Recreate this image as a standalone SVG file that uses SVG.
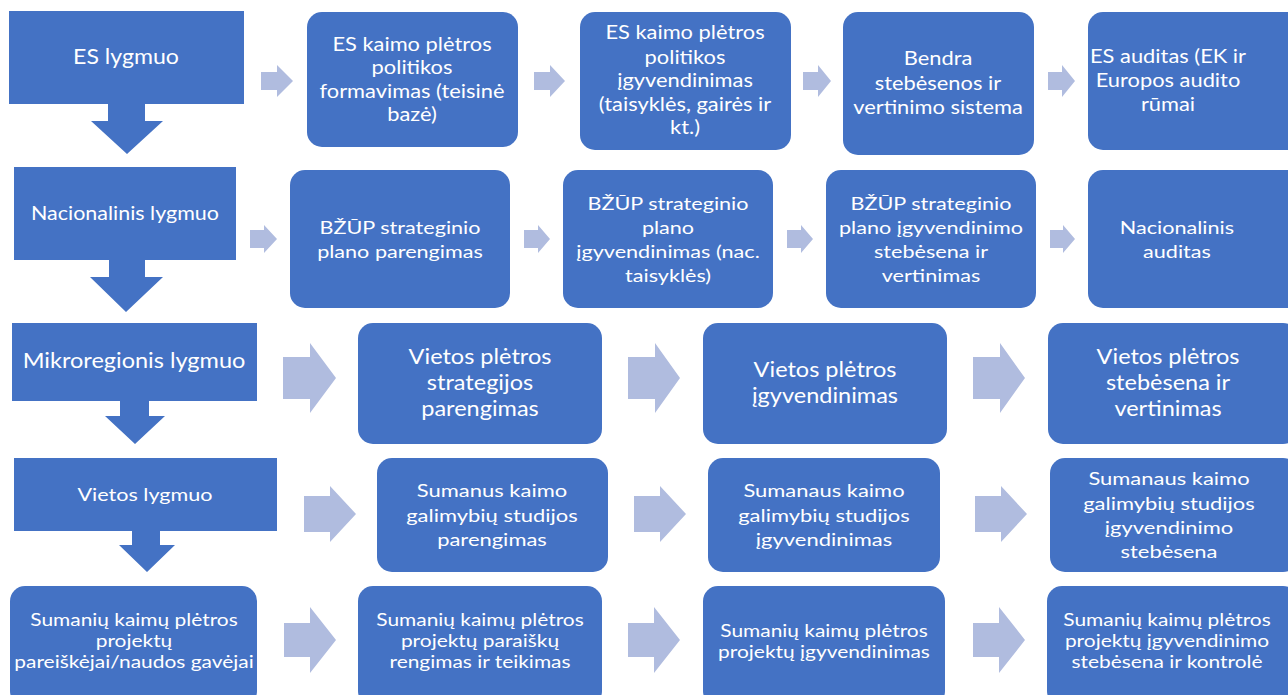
<svg xmlns="http://www.w3.org/2000/svg" width="1288" height="695" viewBox="0 0 1288 695">
<style>
.lvl{fill:#4472C4}
.box{fill:#4472C4}
.arr{fill:#B0BCDF}
.dn{fill:#4472C4}
text{fill:#FFFFFF;font-family:Lato,"Liberation Sans",sans-serif;text-anchor:middle}
.f0{font-size:21px}
.f1{font-size:19px}
.f2{font-size:18px}
.f2b{font-size:19px}
.f3{font-size:21px}
.f4{font-size:18px}
.f5{font-size:17px}
</style>
<rect width="1288" height="695" fill="#FFFFFF"/>
<g id="connectors">
<path class="dn" d="M108 104H145V121H163L127 154L91 121H108Z"/>
<path class="dn" d="M109 260H145V277H163L126 312L90 277H109Z"/>
<path class="dn" d="M120 401H149V416H165L135 444L105 416H120Z"/>
<path class="dn" d="M132 531H160V545H175L147 572L119 545H132Z"/>
<path class="arr" d="M261 72H277V65L293 81L277 97V90H261Z"/>
<path class="arr" d="M534 72H550V65L565 81L550 97V90H534Z"/>
<path class="arr" d="M803 72H818V65L831 81L818 97V90H803Z"/>
<path class="arr" d="M1048 72H1062V65L1075 81L1062 97V90H1048Z"/>
<path class="arr" d="M250 230H264V225L277 239L264 253V248H250Z"/>
<path class="arr" d="M524 230H538V225L550 239L538 253V248H524Z"/>
<path class="arr" d="M787 230H801V225L813 239L801 253V248H787Z"/>
<path class="arr" d="M1050 230H1063V225L1075 239L1063 253V248H1050Z"/>
<path class="arr" d="M283 357H310V343L336 378L310 413V399H283Z"/>
<path class="arr" d="M628 357H655V343L680 378L655 413V399H628Z"/>
<path class="arr" d="M973 357H1000V343L1025 378L1000 413V399H973Z"/>
<path class="arr" d="M304 496H330V486L356 514L330 542V532H304Z"/>
<path class="arr" d="M634 496H660V486L686 514L660 542V532H634Z"/>
<path class="arr" d="M975 496H1001V486L1027 514L1001 542V532H975Z"/>
<path class="arr" d="M284 623H310V607L336 640L310 673V657H284Z"/>
<path class="arr" d="M628 623H654V607L680 640L654 673V657H628Z"/>
<path class="arr" d="M973 623H999V607L1025 640L999 673V657H973Z"/>
</g>
<g id="es-lygmuo"><rect class="lvl" x="9" y="11" width="235" height="93"/><text class="f0" transform="translate(126 0) scale(1.1 1)" x="0" y="64">ES lygmuo</text></g>
<g id="es-formavimas"><rect class="box" x="307" y="12" width="211" height="135" rx="15"/><text class="f1" transform="translate(412 0) scale(1.15 1)"><tspan x="0" y="51">ES kaimo plėtros</tspan><tspan x="0" y="74">politikos</tspan><tspan x="0" y="98">formavimas (teisinė</tspan><tspan x="0" y="121">bazė)</tspan></text></g>
<g id="es-igyvendinimas"><rect class="box" x="580" y="12" width="211" height="138" rx="15"/><text class="f1" transform="translate(685 0) scale(1.15 1)"><tspan x="0" y="39">ES kaimo plėtros</tspan><tspan x="0" y="64">politikos</tspan><tspan x="0" y="87">įgyvendinimas</tspan><tspan x="0" y="111">(taisyklės, gairės ir</tspan><tspan x="0" y="134">kt.)</tspan></text></g>
<g id="es-stebesena"><rect class="box" x="843" y="12" width="191" height="143" rx="15"/><text class="f1" transform="translate(938 0) scale(1.15 1)"><tspan x="0" y="65">Bendra</tspan><tspan x="0" y="90">stebėsenos ir</tspan><tspan x="0" y="114">vertinimo sistema</tspan></text></g>
<g id="es-auditas"><rect class="box" x="1088" y="12" width="215" height="138" rx="15"/><text class="f1" transform="translate(1168 0) scale(1.15 1)"><tspan x="0" y="63">ES auditas (EK ir</tspan><tspan x="0" y="87">Europos audito</tspan><tspan x="0" y="111">rūmai</tspan></text></g>
<g id="nac-lygmuo"><rect class="lvl" x="14" y="167" width="222" height="93"/><text class="f2b" transform="translate(125 0) scale(1.13 1)" x="0" y="220">Nacionalinis lygmuo</text></g>
<g id="nac-parengimas"><rect class="box" x="290" y="170" width="220" height="138" rx="15"/><text class="f2" transform="translate(400 0) scale(1.2 1)"><tspan x="0" y="234">BŽŪP strateginio</tspan><tspan x="0" y="258">plano parengimas</tspan></text></g>
<g id="nac-igyvendinimas"><rect class="box" x="563" y="170" width="210" height="138" rx="15"/><text class="f2" transform="translate(668 0) scale(1.2 1)"><tspan x="0" y="210">BŽŪP strateginio</tspan><tspan x="0" y="234">plano</tspan><tspan x="0" y="258">įgyvendinimas (nac.</tspan><tspan x="0" y="282">taisyklės)</tspan></text></g>
<g id="nac-stebesena"><rect class="box" x="826" y="170" width="210" height="138" rx="15"/><text class="f2" transform="translate(931 0) scale(1.2 1)"><tspan x="0" y="210">BŽŪP strateginio</tspan><tspan x="0" y="234">plano įgyvendinimo</tspan><tspan x="0" y="258">stebėsena ir</tspan><tspan x="0" y="282">vertinimas</tspan></text></g>
<g id="nac-auditas"><rect class="box" x="1088" y="170" width="215" height="138" rx="15"/><text class="f2" transform="translate(1177 0) scale(1.2 1)"><tspan x="0" y="234">Nacionalinis</tspan><tspan x="0" y="258">auditas</tspan></text></g>
<g id="mikro-lygmuo"><rect class="lvl" x="12" y="323" width="245" height="78"/><text class="f3" transform="translate(134 0) scale(1.12 1)" x="0" y="368">Mikroregionis lygmuo</text></g>
<g id="mikro-strategija"><rect class="box" x="358" y="323" width="244" height="121" rx="15"/><text class="f3" transform="translate(480 0) scale(1.12 1)"><tspan x="0" y="364">Vietos plėtros</tspan><tspan x="0" y="390">strategijos</tspan><tspan x="0" y="416">parengimas</tspan></text></g>
<g id="mikro-igyvendinimas"><rect class="box" x="703" y="323" width="244" height="121" rx="15"/><text class="f3" transform="translate(825 0) scale(1.12 1)"><tspan x="0" y="377">Vietos plėtros</tspan><tspan x="0" y="403">įgyvendinimas</tspan></text></g>
<g id="mikro-stebesena"><rect class="box" x="1048" y="323" width="250" height="121" rx="15"/><text class="f3" transform="translate(1168 0) scale(1.12 1)"><tspan x="0" y="364">Vietos plėtros</tspan><tspan x="0" y="390">stebėsena ir</tspan><tspan x="0" y="416">vertinimas</tspan></text></g>
<g id="vietos-lygmuo"><rect class="lvl" x="14" y="458" width="263" height="73"/><text class="f2" transform="translate(145 0) scale(1.2 1)" x="0" y="501">Vietos lygmuo</text></g>
<g id="vietos-parengimas"><rect class="box" x="377" y="458" width="231" height="114" rx="15"/><text class="f4" transform="translate(492 0) scale(1.22 1)"><tspan x="0" y="497">Sumanus kaimo</tspan><tspan x="0" y="522">galimybių studijos</tspan><tspan x="0" y="546">parengimas</tspan></text></g>
<g id="vietos-igyvendinimas"><rect class="box" x="708" y="458" width="232" height="114" rx="15"/><text class="f4" transform="translate(824 0) scale(1.22 1)"><tspan x="0" y="497">Sumanaus kaimo</tspan><tspan x="0" y="522">galimybių studijos</tspan><tspan x="0" y="546">įgyvendinimas</tspan></text></g>
<g id="vietos-stebesena"><rect class="box" x="1050" y="458" width="248" height="114" rx="15"/><text class="f4" transform="translate(1169 0) scale(1.22 1)"><tspan x="0" y="485">Sumanaus kaimo</tspan><tspan x="0" y="510">galimybių studijos</tspan><tspan x="0" y="534">įgyvendinimo</tspan><tspan x="0" y="558">stebėsena</tspan></text></g>
<g id="pareiskejai"><rect class="box" x="10" y="586" width="247" height="120" rx="15"/><text class="f5" transform="translate(134 0) scale(1.23 1)"><tspan x="0" y="626">Sumanių kaimų plėtros</tspan><tspan x="0" y="647">projektų</tspan><tspan x="0" y="668">pareiškėjai/naudos gavėjai</tspan></text></g>
<g id="paraiskos"><rect class="box" x="358" y="586" width="244" height="120" rx="15"/><text class="f5" transform="translate(480 0) scale(1.23 1)"><tspan x="0" y="626">Sumanių kaimų plėtros</tspan><tspan x="0" y="647">projektų paraiškų</tspan><tspan x="0" y="668">rengimas ir teikimas</tspan></text></g>
<g id="projektu-igyvendinimas"><rect class="box" x="703" y="586" width="242" height="120" rx="15"/><text class="f5" transform="translate(824 0) scale(1.23 1)"><tspan x="0" y="637">Sumanių kaimų plėtros</tspan><tspan x="0" y="658">projektų įgyvendinimas</tspan></text></g>
<g id="projektu-stebesena"><rect class="box" x="1047" y="586" width="251" height="120" rx="15"/><text class="f5" transform="translate(1167 0) scale(1.23 1)"><tspan x="0" y="626">Sumanių kaimų plėtros</tspan><tspan x="0" y="647">projektų įgyvendinimo</tspan><tspan x="0" y="668">stebėsena ir kontrolė</tspan></text></g>
</svg>
